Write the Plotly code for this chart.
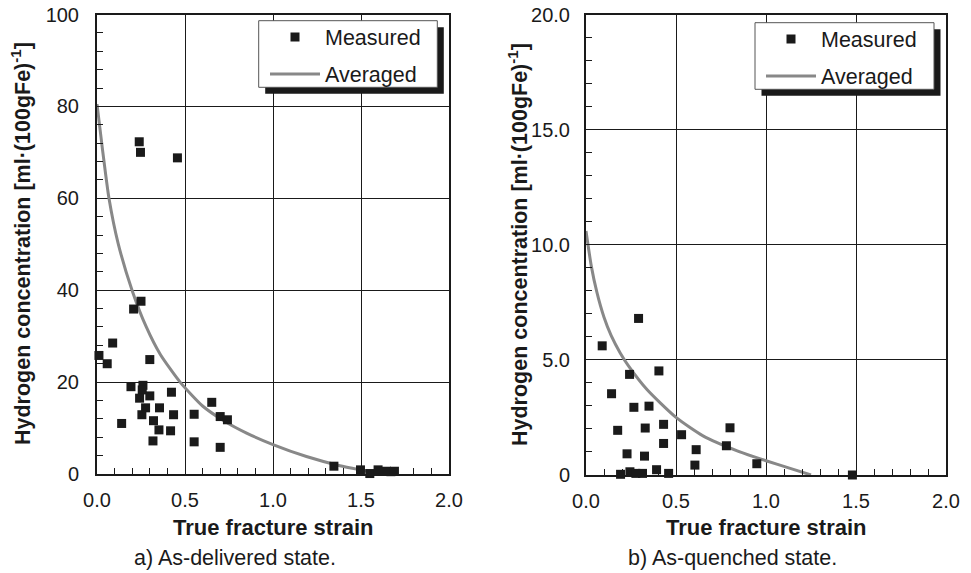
import plotly.graph_objects as go

# a) as-delivered state
strain_a = [0.24, 0.247, 0.457, 0.25, 0.208, 0.089, 0.011, 0.058, 0.30, 0.193,
            0.261, 0.257, 0.242, 0.30, 0.423, 0.652, 0.276, 0.355, 0.255, 0.435,
            0.552, 0.70, 0.741, 0.14, 0.321, 0.352, 0.418, 0.318, 0.552, 0.70,
            1.346, 1.497, 1.55, 1.597, 1.645, 1.67, 1.69]
hydrogen_a = [72.3, 70.0, 68.8, 37.6, 35.9, 28.5, 25.8, 24.0, 24.9, 19.0,
              19.3, 18.3, 16.5, 17.0, 17.8, 15.6, 14.4, 14.4, 12.9, 12.9,
              13.0, 12.5, 11.8, 11.0, 11.6, 9.6, 9.4, 7.2, 7.0, 5.8,
              1.7, 0.9, 0.1, 0.9, 0.6, 0.5, 0.6]
avg_strain_a = [0.0, 0.03, 0.068, 0.12, 0.2, 0.28, 0.36, 0.472, 0.6, 0.72, 0.85, 1.0, 1.19, 1.38, 1.51, 1.62]
avg_hydrogen_a = [80.5, 71.0, 60.0, 50.2, 39.9, 32.0, 26.0, 20.0, 14.8, 11.6, 8.9, 6.4, 3.8, 1.8, 0.8, 0.0]

# b) as-quenched state
strain_b = [0.292, 0.09, 0.242, 0.405, 0.142, 0.266, 0.35, 0.176, 0.329, 0.431,
            0.80, 0.531, 0.431, 0.78, 0.612, 0.228, 0.325, 0.605, 0.949, 0.392,
            0.244, 0.192, 0.277, 0.314, 0.459, 1.48]
hydrogen_b = [6.80, 5.61, 4.37, 4.52, 3.53, 2.94, 2.99, 1.94, 2.04, 2.2,
              2.05, 1.75, 1.37, 1.27, 1.1, 0.92, 0.82, 0.43, 0.49, 0.23,
              0.14, 0.03, 0.07, 0.07, 0.07, 0.0]
avg_strain_b = [0.0, 0.03, 0.06, 0.1, 0.14, 0.19, 0.235, 0.34, 0.5, 0.65, 0.84, 1.0, 1.13, 1.25]
avg_hydrogen_b = [10.6, 9.05, 7.95, 6.85, 6.05, 5.3, 4.75, 3.7, 2.5, 1.7, 1.05, 0.62, 0.3, 0.0]

x_ticks = [0, 0.5, 1.0, 1.5, 2.0]
x_ticktext = ["0.0", "0.5", "1.0", "1.5", "2.0"]
y_ticks_a = [0, 20, 40, 60, 80, 100]
y_ticks_b = [0, 5, 10, 15, 20]
y_ticktext_b = ["0", "5.0", "10.0", "15.0", "20.0"]

# the page body has an 8px margin, so the figure is drawn 8px in from the window corner
OFF = 8
W, H = 971 - OFF, 573 - OFF
FONT = "Liberation Sans, Arial, sans-serif"
INK = "#1a1a1a"


def px(x):
  return (x - OFF) / W


def py(y):
  return 1 - (y - OFF) / H


fig = go.Figure()

for strain, hyd, avg_s, avg_h, xa, ya, leg in [
    (strain_a, hydrogen_a, avg_strain_a, avg_hydrogen_a, "x", "y", "legend"),
    (strain_b, hydrogen_b, avg_strain_b, avg_hydrogen_b, "x2", "y2", "legend2")]:
  fig.add_trace(go.Scatter(x=avg_s, y=avg_h, mode="lines", name="Averaged",
                           line=dict(color="#888888", width=3, shape="spline", smoothing=0.6),
                           xaxis=xa, yaxis=ya, legend=leg, legendrank=2, legendgroup="avg"))
  fig.add_trace(go.Scatter(x=strain, y=hyd, mode="markers", name="Measured",
                           marker=dict(symbol="square", size=9, color=INK),
                           cliponaxis=False,
                           xaxis=xa, yaxis=ya, legend=leg, legendrank=1, legendgroup="meas"))

axis_common = dict(showline=True, linecolor=INK, linewidth=2, mirror=True,
                   showgrid=True, gridcolor=INK, gridwidth=1, zeroline=False,
                   ticks="inside", ticklen=6, tickcolor=INK, automargin=False,
                   ticklabeloverflow="allow",
                   tickfont=dict(family=FONT, size=20, color=INK))

fig.update_layout(
  width=W, height=H,
  margin=dict(l=0, r=0, t=0, b=0, autoexpand=False),
  paper_bgcolor="white", plot_bgcolor="white",
  font=dict(family=FONT, color=INK),
  xaxis=dict(domain=[px(97), px(449)], range=[0, 2], tickvals=x_ticks, ticktext=x_ticktext,
             minor=dict(dtick=0.1, ticks="inside", ticklen=6, tickcolor=INK, showgrid=False),
             ticklabelstandoff=7, anchor="y", **axis_common),
  yaxis=dict(domain=[py(474), py(14.5)], range=[0, 100], tickvals=y_ticks_a,
             minor=dict(dtick=4, ticks="inside", ticklen=6, tickcolor=INK, showgrid=False),
             ticklabelstandoff=12, anchor="x", **axis_common),
  xaxis2=dict(domain=[px(586), px(946)], range=[0, 2], tickvals=x_ticks, ticktext=x_ticktext,
              minor=dict(dtick=0.1, ticks="inside", ticklen=6, tickcolor=INK, showgrid=False),
              ticklabelstandoff=7, anchor="y2", **axis_common),
  yaxis2=dict(domain=[py(475), py(14.5)], range=[0, 20], tickvals=y_ticks_b, ticktext=y_ticktext_b,
              minor=dict(dtick=1, ticks="inside", ticklen=6, tickcolor=INK, showgrid=False),
              ticklabelstandoff=10, anchor="x2", **axis_common),
  legend=dict(x=px(265), y=py(16.5), xanchor="left", yanchor="top", bgcolor="rgba(0,0,0,0)",
              borderwidth=0, font=dict(family=FONT, size=21.5, color=INK), itemwidth=50,
              tracegroupgap=6),
  legend2=dict(x=px(761), y=py(18.5), xanchor="left", yanchor="top", bgcolor="rgba(0,0,0,0)",
               borderwidth=0, font=dict(family=FONT, size=21.5, color=INK), itemwidth=50,
               tracegroupgap=6),
  showlegend=True,
)

# legend boxes with drop shadow
for x0, y0, x1, y1 in [(258.7, 20.7, 437.3, 87.3), (755, 22.7, 934, 89.3)]:
  fig.add_shape(type="rect", xref="paper", yref="paper", layer="above",
                x0=px(x0 + 6.5), x1=px(x1 + 6.5), y0=py(y0 + 6.5), y1=py(y1 + 6.5),
                fillcolor=INK, line=dict(width=0))
  fig.add_shape(type="rect", xref="paper", yref="paper", layer="above",
                x0=px(x0), x1=px(x1), y0=py(y0), y1=py(y1),
                fillcolor="white", line=dict(color="#555555", width=1))

ytitle = "Hydrogen concentration [ml·(100gFe)<sup>-1</sup>]"
for x, cx in [(21, 273.7), (518, 766.7)]:
  fig.add_annotation(x=px(x), y=py(244), xref="paper", yref="paper", text="<b>" + ytitle + "</b>",
                     xanchor="center", yanchor="middle",
                     textangle=-90, showarrow=False, font=dict(family=FONT, size=21.5, color=INK))
  fig.add_annotation(x=px(cx), y=py(527), xref="paper", yref="paper", text="<b>True fracture strain</b>",
                     xanchor="center", yanchor="middle",
                     showarrow=False, font=dict(family=FONT, size=22, color=INK))

for cx, cap in [(235, "a) As-delivered state."), (732.5, "b) As-quenched state.")]:
  fig.add_annotation(x=px(cx), y=py(558), xref="paper", yref="paper", text=cap,
                     xanchor="center", yanchor="middle",
                     showarrow=False, font=dict(family=FONT, size=21.5, color=INK))

fig.write_html("out.html")
